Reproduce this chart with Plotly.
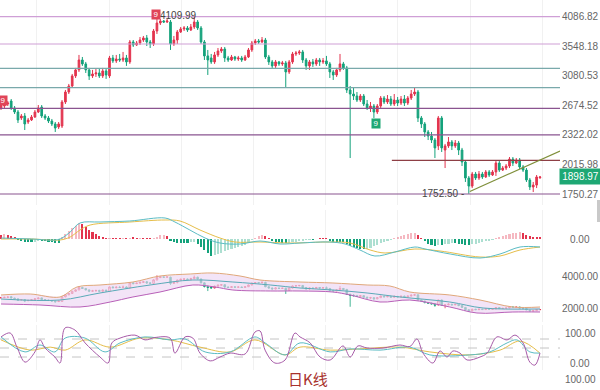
import math
import plotly.graph_objects as go

# ---------------- price data (daily candles) ----------------
opens = [2641, 2666, 2692, 2731, 2641, 2591, 2518, 2542, 2470, 2494,
         2530, 2591, 2653, 2542, 2518, 2482, 2447, 2412, 2423, 2718,
         2851, 2934, 3079, 3169, 3323, 3261, 3169, 3079, 3108, 3123,
         3079, 3153, 3079, 3355, 3308, 3339, 3323, 3355, 3292, 3622,
         3570, 3604, 3656, 3692, 3622, 3587, 3817, 3966, 4004, 3985,
         3985, 3587, 3656, 3799, 3854, 3872, 3835, 3891, 3985, 3872,
         3622, 3388, 3355, 3292, 3404, 3469, 3502, 3355, 3323, 3371,
         3339, 3355, 3323, 3371, 3486, 3604, 3639, 3622, 3656, 3371,
         3292, 3230, 3292, 3261, 3276, 3138, 3292, 3420, 3436, 3453,
         3323, 3230, 3292, 3261, 3323, 3292, 3308, 3261, 3138, 3093,
         3169, 3261, 3199, 2879, 2824, 2797, 2744, 2797, 2692, 2641,
         2666, 2591, 2666, 2770, 2718, 2757, 2692, 2744, 2705, 2757,
         2705, 2770, 2824, 2851, 2518, 2447, 2355, 2310, 2266, 2203,
         2518, 2160, 2203, 2245, 2203, 2234, 2160, 2040, 1890, 1818,
         1926, 1890, 1926, 1899, 1945, 1917, 1945, 2030, 1963, 1982,
         2001, 2069, 2030, 2059, 1992, 1963, 1872, 1810, 1827, 1893]
closes = [2679, 2692, 2705, 2641, 2591, 2494, 2542, 2447, 2494, 2530,
          2591, 2641, 2542, 2518, 2482, 2447, 2400, 2447, 2718, 2851,
          2934, 3079, 3169, 3323, 3261, 3169, 3079, 3108, 3123, 3079,
          3153, 3093, 3355, 3308, 3339, 3323, 3355, 3292, 3622, 3570,
          3604, 3656, 3692, 3622, 3587, 3817, 3966, 4004, 3985, 4004,
          3587, 3656, 3799, 3854, 3872, 3835, 3891, 3985, 3872, 3622,
          3388, 3323, 3292, 3404, 3469, 3502, 3355, 3323, 3371, 3339,
          3355, 3323, 3371, 3486, 3604, 3639, 3622, 3656, 3371, 3292,
          3230, 3292, 3261, 3276, 3138, 3292, 3420, 3436, 3453, 3323,
          3230, 3292, 3261, 3323, 3292, 3308, 3261, 3138, 3093, 3169,
          3261, 3199, 2879, 2824, 2797, 2744, 2797, 2692, 2641, 2666,
          2591, 2666, 2770, 2718, 2757, 2692, 2744, 2705, 2757, 2705,
          2770, 2824, 2851, 2518, 2447, 2355, 2310, 2266, 2182, 2518,
          2182, 2203, 2245, 2203, 2234, 2160, 2040, 1890, 1818, 1926,
          1890, 1926, 1899, 1945, 1917, 1945, 2030, 1963, 1982, 2001,
          2069, 2030, 2059, 1992, 1963, 1872, 1810, 1827, 1899, 1898.97]
highs = [2705, 2718, 2731, 2757, 2666, 2616, 2566, 2578, 2518, 2554,
         2616, 2679, 2679, 2566, 2542, 2506, 2470, 2470, 2744, 2879,
         2963, 3108, 3199, 3404, 3371, 3292, 3199, 3169, 3184, 3184,
         3199, 3184, 3388, 3404, 3404, 3420, 3453, 3404, 3656, 3656,
         3639, 3709, 3727, 3745, 3656, 3854, 4109.99, 4042, 4023, 4042,
         4023, 3727, 3835, 3891, 3909, 3909, 3947, 4100, 4023, 3909,
         3656, 3486, 3420, 3453, 3519, 3536, 3536, 3388, 3404, 3388,
         3388, 3388, 3404, 3519, 3639, 3674, 3674, 3709, 3692, 3404,
         3323, 3323, 3308, 3308, 3308, 3323, 3453, 3469, 3486, 3486,
         3355, 3323, 3339, 3355, 3355, 3355, 3388, 3292, 3169, 3199,
         3420, 3292, 3230, 2934, 2906, 2851, 2824, 2824, 2744, 2718,
         2692, 2692, 2797, 2797, 2810, 2797, 2824, 2784, 2797, 2810,
         2797, 2879, 2906, 2879, 2542, 2470, 2377, 2355, 2288, 2542,
         2542, 2224, 2299, 2266, 2266, 2256, 2182, 2059, 1908, 1945,
         1945, 1954, 1945, 1963, 1963, 1963, 2050, 2050, 2001, 2020,
         2089, 2089, 2079, 2079, 2011, 1982, 1890, 1854, 1917, 1908]
lows = [2616, 2641, 2666, 2616, 2566, 2458, 2494, 2377, 2447, 2482,
        2518, 2578, 2518, 2494, 2458, 2423, 2355, 2389, 2400, 2692,
        2824, 2906, 3049, 3138, 3230, 3123, 3020, 3049, 3064, 3049,
        3049, 3035, 3049, 3276, 3276, 3292, 3292, 3230, 3261, 3536,
        3553, 3570, 3622, 3553, 3519, 3553, 3763, 3928, 3966, 3966,
        3486, 3553, 3587, 3781, 3817, 3799, 3817, 3854, 3835, 3587,
        3323, 3093, 3261, 3261, 3371, 3436, 3292, 3292, 3308, 3308,
        3308, 3292, 3308, 3355, 3453, 3570, 3587, 3604, 3339, 3245,
        3184, 3199, 3230, 3230, 2906, 3108, 3261, 3388, 3404, 3276,
        3169, 3169, 3214, 3230, 3230, 3261, 3230, 3049, 3020, 3064,
        3138, 3169, 2838, 2079, 2744, 2718, 2718, 2666, 2616, 2591,
        2518, 2566, 2641, 2692, 2692, 2666, 2666, 2666, 2679, 2666,
        2679, 2744, 2797, 2470, 2400, 2299, 2266, 2234, 2079, 2160,
        2140, 1982, 2182, 2160, 2182, 2109, 2001, 1854, 1752.5, 1801,
        1872, 1872, 1881, 1890, 1899, 1908, 1908, 1945, 1954, 1963,
        1982, 2001, 2020, 1973, 1945, 1854, 1784, 1767, 1801, 1881]
days = list(range(len(closes)))

# key levels drawn across the price panel
levels_pink = [4086.82, 3587]
levels_teal = [3193, 2910]
levels_purple = [2637, 2322.02, 1750.27]
level_brown = 2056
level_brown_start = 115.3
trend_x = [138.3, 164.9]
trend_y = [1772, 2150]

price_ticks = [4086.82, 3548.18, 3080.53, 2674.52, 2322.02, 2015.98, 1750.27]
last_price = 1898.97
high_mark = (46, 4109.99)
low_mark = (138, 1752.50)
nine_red = [(0.6, 2744), (45.6, 4125)]
nine_green = [(110.6, 2447)]

# ---------------- MACD ----------------
macd_hist = [40, 50, 45, 35, 20, -5, -15, -25, -30, -30,
             -25, -15, -15, -20, -25, -30, -35, -35, 20, 50,
             80, 110, 130, 160, 150, 120, 95, 70, 50, 35,
             20, 10, 15, 10, 5, 5, 8, 5, 15, 15,
             10, 12, 10, 8, 5, 15, 25, 40, 45, 35,
             -15, -30, -35, -35, -35, -35, -30, -25, -50, -80,
             -110, -140, -165, -160, -150, -135, -120, -110, -100, -90,
             -80, -70, -55, -35, -10, 15, 30, 40, 30, 10,
             -15, -25, -30, -35, -40, -35, -30, -25, -20, -15,
             -10, -5, -5, 5, 5, 5, 5, -15, -25, -30,
             -30, -30, -45, -70, -80, -90, -95, -100, -95, -85,
             -70, -55, -40, -25, -15, -10, 10, 20, 30, 45,
             55, 60, 65, 40, 10, -20, -45, -60, -70, -55,
             -60, -50, -45, -40, -40, -45, -50, -55, -60, -50,
             -45, -40, -30, -20, -15, -5, 10, 20, 30, 40,
             55, 60, 65, 70, 65, 45, 30, 20, 15, 15]
dif_x = [0, 9, 16, 18, 20.4, 23.3, 29.2, 38, 48.4, 51.3, 55.7, 60.2, 64.6, 70.5, 76.4,
         82.3, 88.2, 97, 101.5, 105.9, 110.3, 116.2, 122.1, 125.1, 132.5, 141.3, 147.2, 153.1, 159]
dif_y = [10, 0, -10, 10, 70, 160, 170, 180, 210, 170, 90, 10, -40, -50, -20,
         -50, -40, -30, -50, -110, -170, -130, -80, -100, -150, -190, -150, -80, -80]
dea_x = [0, 9, 17.4, 20.4, 23.3, 26.3, 38, 48.4, 52.8, 58.7, 64.6, 69, 76.4, 85.3, 97,
         103, 108.9, 113.3, 122.1, 129.5, 141.3, 147.2, 153.1, 159]
dea_y = [0, 0, -10, 20, 90, 140, 170, 190, 180, 90, 10, -30, -30, -40, -30,
         -40, -110, -140, -100, -120, -180, -170, -110, -80]

# ---------------- Bollinger ----------------
boll_up_x = [0, 8.6, 17.4, 22.4, 29.2, 38.9, 46.9, 55.8, 62.5, 70.5, 76.4, 88.2, 97.9,
             108, 114.7, 120.6, 132.4, 141.3, 151, 159]
boll_up_y = [2839, 2903, 2710, 3355, 3484, 3677, 4064, 4193, 4258, 4064, 3806, 3677, 3613,
             3484, 3419, 3032, 2839, 2516, 2065, 2065]
boll_mid_x = [0, 17.4, 29.2, 44, 56.6, 68.4, 79.4, 88.2, 97.9, 108, 117.7, 132.4, 142.2, 159]
boll_mid_y = [2580, 2516, 2968, 3484, 3806, 3677, 3484, 3290, 3161, 2968, 2710, 2387, 2000, 1936]
boll_low_x = [0, 11.5, 23.3, 32.2, 38.9, 46.9, 56.6, 63.1, 68.4, 79.4, 88.2, 97.9, 103,
              111.8, 120.6, 132.4, 140.4, 151, 159]
boll_low_y = [2258, 2194, 2065, 2387, 2710, 3032, 3484, 3355, 3161, 3097, 3097, 3032, 2839,
              2387, 2516, 2065, 1678, 1742, 1742]

# ---------------- KDJ ----------------
kdj_j_x = [0, 2.7, 4.7, 7.1, 10, 11.5, 13, 15.9, 17.4, 18.9, 21.8, 24.8, 29.2, 31.6, 32.7,
           35.1, 39.5, 42.5, 45.4, 49.9, 51.3, 54.3, 56.6, 58.7, 61.7, 64.6, 67.6, 72,
           74.9, 76.4, 77.9, 80.8, 83.8, 86.7, 88.2, 91.2, 94.1, 97.1, 100.9, 103, 105.3,
           108, 112.7, 117.7, 120.6, 122.7, 124.5, 127.4, 129.5, 131.6, 133.3, 135.4,
           137.5, 141.3, 143.4, 146.3, 149.3, 151.6, 154, 156, 157.5, 159]
kdj_j_y = [87, 100, 53, 3, 37, 77, 50, 20, 0, 117, 110, 67, 20, 0, 67,
           83, 93, 77, 85, 83, 33, 87, 83, 33, 7, 20, 33, 30,
           103, 107, 43, 0, 10, 100, 87, 67, 20, 10, 57, 20, 57,
           50, 50, 60, 55, 80, 33, 0, 40, 20, 40, 33,
           10, 20, 33, 87, 77, 93, 67, 3, -7, 33]
kdj_k_x = [0, 7.1, 11.5, 15.9, 18.9, 24.8, 30.7, 35.1, 42.5, 49.9, 54.3, 60.2, 67.6,
           74.9, 77.9, 83.8, 88.2, 97.1, 103, 111.8, 120.6, 126.5, 138.3, 144.2, 149.3,
           152.2, 156, 159]
kdj_k_y = [87, 37, 60, 37, 83, 83, 37, 67, 87, 77, 80, 37, 37,
           87, 67, 27, 67, 37, 47, 43, 53, 27, 27, 37, 67,
           77, 37, 33]
kdj_d_x = [0, 8.6, 14.5, 18.9, 24.8, 32.2, 41, 49.9, 58.7, 67.6, 74.9, 83.8, 88.2,
           97.1, 105.9, 117.7, 126.5, 138.3, 147.2, 153.1, 159]
kdj_d_y = [77, 43, 53, 43, 77, 53, 83, 77, 53, 37, 77, 27, 53,
           43, 47, 53, 37, 27, 43, 73, 33]
kdj_guides = [80, 50, 20]

# ---------------- styling ----------------
RED = "#e3344e"
GREEN = "#14a27b"
X_MIN, X_MAX = -0.3, 164.9
W, H = 600, 390
PLOT_W = 560


def pf(px):  # pixel row -> paper fraction
    return 1 - px / H


fig = go.Figure()

# price panel level lines
for lv in levels_pink:
    fig.add_trace(go.Scatter(x=[X_MIN, X_MAX], y=[lv, lv], mode="lines",
                             line=dict(color="#cf9fd6", width=1.2), hoverinfo="skip", yaxis="y"))
for lv in levels_teal:
    fig.add_trace(go.Scatter(x=[X_MIN, X_MAX], y=[lv, lv], mode="lines",
                             line=dict(color="#79a9ab", width=1.2), hoverinfo="skip", yaxis="y"))
for lv in levels_purple:
    fig.add_trace(go.Scatter(x=[X_MIN, X_MAX], y=[lv, lv], mode="lines",
                             line=dict(color="#8a5490", width=1.2), hoverinfo="skip", yaxis="y"))
fig.add_trace(go.Scatter(x=[level_brown_start, X_MAX], y=[level_brown, level_brown], mode="lines",
                         line=dict(color="#8e3f45", width=1.2), hoverinfo="skip", yaxis="y"))
fig.add_trace(go.Scatter(x=trend_x, y=trend_y, mode="lines",
                         line=dict(color="#7f8f3a", width=1.2), hoverinfo="skip", yaxis="y"))

# candles
fig.add_trace(go.Candlestick(x=days, open=opens, high=highs, low=lows, close=closes,
                             increasing=dict(line=dict(color=RED, width=1), fillcolor=RED),
                             decreasing=dict(line=dict(color=GREEN, width=1), fillcolor=GREEN),
                             whiskerwidth=0, yaxis="y", hoverinfo="skip"))

# MACD histogram
bar_colors = []
for i, v in enumerate(macd_hist):
    prev = macd_hist[i - 1] if i > 0 else v
    hollow = v > prev
    if v >= 0:
        bar_colors.append("rgba(227,52,78,0.35)" if hollow else RED)
    else:
        bar_colors.append("rgba(20,162,123,0.35)" if hollow else GREEN)
fig.add_trace(go.Bar(x=days, y=macd_hist, marker=dict(color=bar_colors, line=dict(width=0)),
                     width=0.62, yaxis="y2", hoverinfo="skip"))
fig.add_trace(go.Scatter(x=dea_x, y=dea_y, mode="lines", line=dict(color="#e6be4a", width=1, shape="spline"),
                         yaxis="y2", hoverinfo="skip"))
fig.add_trace(go.Scatter(x=dif_x, y=dif_y, mode="lines", line=dict(color="#5bbcc4", width=1, shape="spline"),
                         yaxis="y2", hoverinfo="skip"))

# Bollinger band
fig.add_trace(go.Scatter(x=boll_up_x + boll_low_x[::-1], y=boll_up_y + boll_low_y[::-1],
                         fill="toself", fillcolor="rgba(236,214,243,0.65)", line=dict(width=0),
                         mode="lines", yaxis="y3", hoverinfo="skip"))
fig.add_trace(go.Scatter(x=boll_up_x, y=boll_up_y, mode="lines", line=dict(color="#e0a77a", width=1, shape="spline"),
                         yaxis="y3", hoverinfo="skip"))
fig.add_trace(go.Scatter(x=boll_low_x, y=boll_low_y, mode="lines", line=dict(color="#b860b8", width=1, shape="spline"),
                         yaxis="y3", hoverinfo="skip"))
fig.add_trace(go.Scatter(x=boll_mid_x, y=boll_mid_y, mode="lines", line=dict(color="#5aaab8", width=1, shape="spline"),
                         yaxis="y3", hoverinfo="skip"))
fig.add_trace(go.Candlestick(x=days, open=opens, high=highs, low=lows, close=closes,
                             increasing=dict(line=dict(color=RED, width=0.8), fillcolor="white"),
                             decreasing=dict(line=dict(color=GREEN, width=0.8), fillcolor=GREEN),
                             whiskerwidth=0, yaxis="y3", hoverinfo="skip"))

# KDJ
for g in kdj_guides:
    fig.add_trace(go.Scatter(x=[X_MIN, X_MAX], y=[g, g], mode="lines",
                             line=dict(color="#c4c4c4", width=1, dash="dash"), yaxis="y4", hoverinfo="skip"))
fig.add_trace(go.Scatter(x=kdj_d_x, y=kdj_d_y, mode="lines", line=dict(color="#e6be4a", width=1, shape="spline"),
                         yaxis="y4", hoverinfo="skip"))
fig.add_trace(go.Scatter(x=kdj_k_x, y=kdj_k_y, mode="lines", line=dict(color="#5bbcc4", width=1, shape="spline"),
                         yaxis="y4", hoverinfo="skip"))
fig.add_trace(go.Scatter(x=kdj_j_x, y=kdj_j_y, mode="lines", line=dict(color="#a75aa8", width=1, shape="spline"),
                         yaxis="y4", hoverinfo="skip"))

annotations = []
LABEL_X = 580 / PLOT_W
lab_font = dict(family="Arial", size=10, color="#666666")
for t in price_ticks:
    annotations.append(dict(x=LABEL_X, xref="paper", y=math.log10(t), yref="y", text=f"{t:.2f}",
                            showarrow=False, xanchor="center", yanchor="middle", font=lab_font))
annotations.append(dict(x=LABEL_X, xref="paper", y=math.log10(last_price), yref="y", text=f"{last_price:.2f}",
                        showarrow=False, xanchor="center", yanchor="middle", bgcolor="#1ea874",
                        width=37, borderpad=2, font=dict(family="Arial", size=10, color="white")))
annotations.append(dict(x=LABEL_X, xref="paper", y=0, yref="y2", text="0.00", showarrow=False,
                        xanchor="center", yanchor="middle", font=lab_font))
for t in [4000, 2000]:
    annotations.append(dict(x=LABEL_X, xref="paper", y=t, yref="y3", text=f"{t:.2f}", showarrow=False,
                            xanchor="center", yanchor="middle", font=lab_font))
for t in [100, 0]:
    annotations.append(dict(x=LABEL_X, xref="paper", y=t, yref="y4", text=f"{t:.2f}", showarrow=False,
                            xanchor="center", yanchor="middle", font=lab_font))
annotations.append(dict(x=LABEL_X, xref="paper", y=pf(379), yref="paper", text="100.00", showarrow=False,
                        xanchor="center", yanchor="middle", font=lab_font))

# high / low marks
annotations.append(dict(x=high_mark[0] + 0.4, y=math.log10(high_mark[1]), xref="x", yref="y",
                        text=f"{high_mark[1]:.2f}", showarrow=False, xanchor="left", yanchor="middle",
                        font=dict(family="Arial", size=10, color="#444444")))
annotations.append(dict(x=low_mark[0] - 0.9, y=math.log10(low_mark[1]), xref="x", yref="y",
                        text=f"{low_mark[1]:.2f} -", showarrow=False, xanchor="right", yanchor="middle",
                        font=dict(family="Arial", size=10, color="#444444")))
for (xx, yy) in nine_red:
    annotations.append(dict(x=xx, y=math.log10(yy), xref="x", yref="y", text="9", showarrow=False,
                            bgcolor="#e04458", borderpad=0.5, width=7, height=8,
                            font=dict(family="Arial", size=8, color="white")))
for (xx, yy) in nine_green:
    annotations.append(dict(x=xx, y=math.log10(yy), xref="x", yref="y", text="9", showarrow=False,
                            bgcolor="#1ea874", borderpad=0.5, width=7, height=8,
                            font=dict(family="Arial", size=8, color="white")))

annotations.append(dict(x=308 / PLOT_W, xref="paper", y=pf(378), yref="paper", text="日K线", showarrow=False,
                        xanchor="center", yanchor="middle",
                        font=dict(family="Noto Sans CJK SC", size=15, color="#a8322d")))

fig.update_layout(
    width=W, height=H,
    margin=dict(l=0, r=W - PLOT_W, t=0, b=0),
    paper_bgcolor="white", plot_bgcolor="white",
    showlegend=False,
    annotations=annotations,
    xaxis=dict(range=[X_MIN, X_MAX], showticklabels=False, showgrid=True, gridcolor="#f1f1f1",
               tick0=10.6, dtick=21.3, zeroline=False, showline=False, rangeslider=dict(visible=False),
               fixedrange=True),
    yaxis=dict(type="log", range=[3.2203, 3.6461], domain=[pf(205), 1], showticklabels=False,
               showgrid=False, zeroline=False),
    yaxis2=dict(range=[-260, 290], domain=[pf(265), pf(210)], showticklabels=False,
                showgrid=False, zeroline=False, anchor="x"),
    yaxis3=dict(range=[1097, 4773.5], domain=[pf(322), pf(265)], showticklabels=False,
                showgrid=False, zeroline=False, anchor="x"),
    yaxis4=dict(range=[-23.3, 126.7], domain=[pf(370), pf(325)], showticklabels=False,
                showgrid=False, zeroline=False, anchor="x"),
    shapes=[dict(type="rect", xref="paper", yref="paper", x0=597 / PLOT_W, x1=600 / PLOT_W,
                 y0=pf(222), y1=pf(200), fillcolor="#c9c9c9", line=dict(width=0))],
    bargap=0,
)

fig.write_html("out.html", config={"displayModeBar": False},
               post_script="document.body.style.margin='0px';document.body.style.overflow='hidden';")
